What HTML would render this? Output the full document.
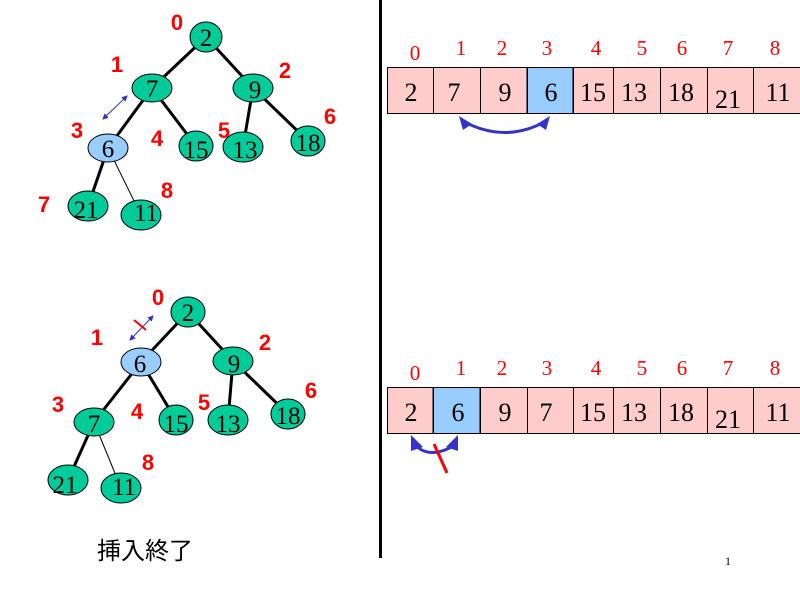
<!DOCTYPE html>
<html><head><meta charset="utf-8"><style>html,body{margin:0;padding:0;background:#fff}svg{display:block}</style></head>
<body>
<svg width="800" height="600" viewBox="0 0 800 600" xmlns="http://www.w3.org/2000/svg">
<defs>
<marker id="ab" markerWidth="6" markerHeight="6" refX="5" refY="3" orient="auto"><path d="M0,0 L6,3 L0,6 z" fill="#3333cc"/></marker>
<marker id="abs" markerWidth="6" markerHeight="6" refX="1" refY="3" orient="auto"><path d="M6,0 L0,3 L6,6 z" fill="#3333cc"/></marker>
</defs>
<rect x="379" y="0" width="3" height="558" fill="#000"/>
<g stroke="#000" stroke-width="3">
<line x1="206" y1="37" x2="152" y2="88"/><line x1="206" y1="37" x2="253" y2="88"/>
<line x1="152" y1="88" x2="108" y2="148"/><line x1="152" y1="88" x2="196" y2="146"/>
<line x1="253" y1="88" x2="243" y2="147"/><line x1="253" y1="88" x2="308" y2="141"/>
<line x1="108" y1="148" x2="88" y2="206"/>
</g>
<line x1="108" y1="148" x2="141" y2="215" stroke="#000" stroke-width="1"/>
<g stroke="#000" stroke-width="1" fill="#00cc99">
<ellipse cx="206" cy="37" rx="16" ry="15"/><ellipse cx="152" cy="88" rx="20" ry="14"/><ellipse cx="253" cy="88" rx="20" ry="14"/>
<ellipse cx="108" cy="148" rx="20" ry="14" fill="#99ccff"/><ellipse cx="196" cy="146" rx="17" ry="15"/><ellipse cx="243" cy="147" rx="20" ry="15"/>
<ellipse cx="308" cy="141" rx="17" ry="15"/><ellipse cx="88" cy="206" rx="20" ry="15"/><ellipse cx="141" cy="215" rx="20" ry="15"/>
</g>
<g font-family="Liberation Serif, serif" font-size="25" text-anchor="middle">
<text x="206" y="46">2</text><text x="152" y="97">7</text><text x="255" y="98">9</text><text x="108" y="157">6</text>
<text x="196" y="158">15</text><text x="245" y="158">13</text><text x="308" y="151">18</text><text x="86" y="218">21</text><text x="146" y="221">11</text>
</g>
<g font-family="Liberation Sans, sans-serif" font-weight="bold" font-size="22" fill="#ff0000" text-anchor="middle">
<text x="177" y="30">0</text><text x="117" y="72">1</text><text x="285" y="78">2</text><text x="77" y="138">3</text>
<text x="157" y="146">4</text><text x="224" y="138">5</text><text x="330" y="124">6</text><text x="44" y="212">7</text><text x="167" y="198">8</text>
</g>
<line x1="103" y1="119" x2="127" y2="96" stroke="#3333cc" stroke-width="1" marker-end="url(#ab)" marker-start="url(#abs)"/>
<g stroke="#000" stroke-width="3">
<line x1="188" y1="312" x2="141" y2="362"/><line x1="188" y1="312" x2="233" y2="361"/>
<line x1="141" y1="362" x2="94" y2="422"/><line x1="141" y1="362" x2="176" y2="420"/>
<line x1="233" y1="361" x2="228" y2="420"/><line x1="233" y1="361" x2="288" y2="414"/>
<line x1="94" y1="422" x2="68" y2="480"/>
</g>
<line x1="94" y1="422" x2="121" y2="488" stroke="#000" stroke-width="1"/>
<g stroke="#000" stroke-width="1" fill="#00cc99">
<ellipse cx="188" cy="312" rx="17" ry="15"/><ellipse cx="141" cy="362" rx="20" ry="14" fill="#99ccff"/><ellipse cx="233" cy="361" rx="20" ry="14"/>
<ellipse cx="94" cy="422" rx="20" ry="14"/><ellipse cx="176" cy="420" rx="17" ry="15"/><ellipse cx="228" cy="420" rx="20" ry="15"/>
<ellipse cx="288" cy="414" rx="17" ry="15"/><ellipse cx="68" cy="480" rx="20" ry="15"/><ellipse cx="121" cy="488" rx="20" ry="15"/>
</g>
<g font-family="Liberation Serif, serif" font-size="25" text-anchor="middle">
<text x="188" y="321">2</text><text x="140" y="372">6</text><text x="234" y="372">9</text><text x="94" y="432">7</text>
<text x="176" y="432">15</text><text x="228" y="432">13</text><text x="288" y="424">18</text><text x="65" y="493">21</text><text x="124" y="495">11</text>
</g>
<g font-family="Liberation Sans, sans-serif" font-weight="bold" font-size="22" fill="#ff0000" text-anchor="middle">
<text x="158" y="305">0</text><text x="97" y="345">1</text><text x="265" y="350">2</text><text x="58" y="412">3</text>
<text x="137" y="419">4</text><text x="204" y="410">5</text><text x="311" y="398">6</text><text x="148" y="470">8</text>
</g>
<line x1="130" y1="340" x2="153" y2="316" stroke="#3333cc" stroke-width="1" marker-end="url(#ab)" marker-start="url(#abs)"/>
<line x1="134" y1="320" x2="146" y2="330" stroke="#ff0000" stroke-width="2"/>
<text x="145" y="559" font-family="Liberation Sans, 'Noto Sans CJK JP', sans-serif" font-size="24" text-anchor="middle">挿入終了</text>
<text x="728" y="565" font-family="Liberation Serif, serif" font-size="12" text-anchor="middle">1</text>
<g stroke="#000" stroke-width="1">
<rect x="387.5" y="67.5" width="413" height="46" fill="#ffcccc"/>
<rect x="527" y="67.5" width="46" height="46" fill="#99ccff"/>
<rect x="387.5" y="387.5" width="413" height="46" fill="#ffcccc"/>
<rect x="433" y="387.5" width="47" height="46" fill="#99ccff"/>
<path d="M433.5 67v47M480.5 67v47M527.5 67v47M573.5 67v47M613.5 67v47M660.5 67v47M707.5 67v47M753.5 67v47"/>
<path d="M433.5 387v47M480.5 387v47M527.5 387v47M573.5 387v47M613.5 387v47M660.5 387v47M707.5 387v47M753.5 387v47"/>
</g>
<g font-family="Liberation Serif, serif" font-size="26" text-anchor="middle">
<text x="411" y="101">2</text><text x="454" y="101">7</text><text x="505" y="101">9</text><text x="551" y="101">6</text>
<text x="593" y="101">15</text><text x="634" y="101">13</text><text x="681" y="101">18</text><text x="728" y="108">21</text><text x="778" y="101">11</text>
<text x="411" y="421">2</text><text x="458" y="421">6</text><text x="505" y="421">9</text><text x="546" y="421">7</text>
<text x="593" y="421">15</text><text x="634" y="421">13</text><text x="681" y="421">18</text><text x="728" y="428">21</text><text x="778" y="421">11</text>
</g>
<g font-family="Liberation Serif, serif" font-size="21" fill="#ff0000" text-anchor="middle">
<text x="415" y="60">0</text><text x="461" y="55">1</text><text x="502" y="55">2</text><text x="547" y="55">3</text><text x="596" y="55">4</text>
<text x="642" y="55">5</text><text x="682" y="55">6</text><text x="728" y="55">7</text><text x="775" y="55">8</text>
<text x="415" y="380">0</text><text x="461" y="375">1</text><text x="502" y="375">2</text><text x="547" y="375">3</text><text x="596" y="375">4</text>
<text x="642" y="375">5</text><text x="682" y="375">6</text><text x="728" y="375">7</text><text x="775" y="375">8</text>
</g>
<g fill="none" stroke="#3333cc" stroke-width="3">
<path d="M461 120 Q505 145 548 120"/>
<path d="M415 445 Q430 460 455 445"/>
</g>
<g fill="#3333cc">
<path d="M459 116 L472 124 L463 130 z"/><path d="M550 116 L537 124 L546 130 z"/>
<path d="M411 435 L423 447 L411 451 z"/><path d="M458 435 L446 447 L458 451 z"/>
</g>
<line x1="434" y1="444" x2="447" y2="473" stroke="#ff0000" stroke-width="3"/>
</svg>
</body></html>
